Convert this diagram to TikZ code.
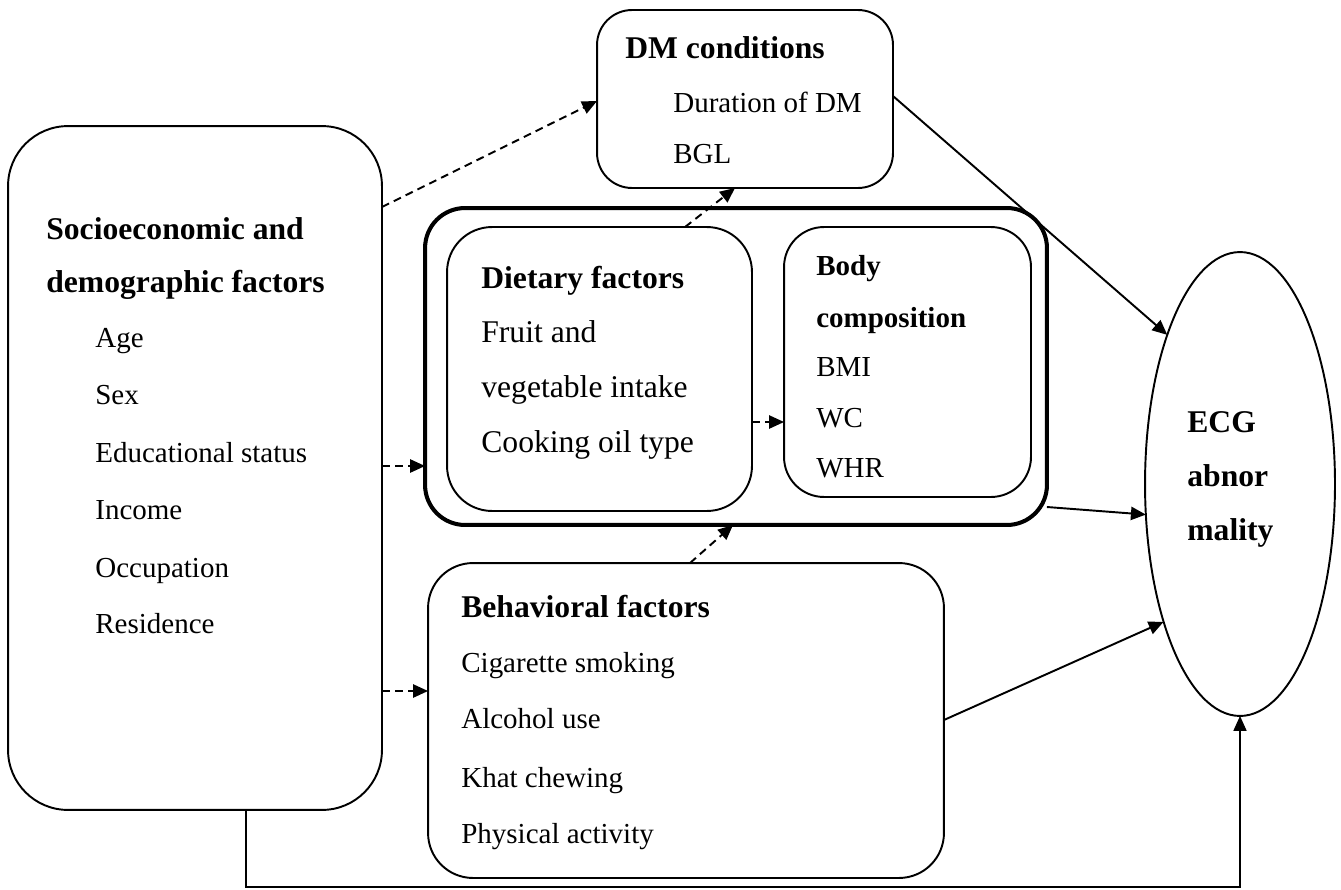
\documentclass[tikz,border=0pt]{standalone}
\usepackage{fontspec}
\setmainfont{Liberation Serif}
\usetikzlibrary{shapes.geometric,arrows.meta}
\begin{document}
\begin{tikzpicture}[x=0.02cm,y=-0.02cm,
  box/.style={draw,line width=1.1pt,inner sep=0pt,outer sep=0pt},
  hd/.style={anchor=base west,inner sep=0pt,font=\fontsize{18}{20}\selectfont\bfseries},
  hds/.style={anchor=base west,inner sep=0pt,font=\fontsize{16.5}{19}\selectfont\bfseries},
  it/.style={anchor=base west,inner sep=0pt,font=\fontsize{16.5}{19}\selectfont},
  itl/.style={anchor=base west,inner sep=0pt,font=\fontsize{18}{20}\selectfont},
  tip/.style={-{Triangle[length=8.5pt,width=7.5pt]}},
  dsh/.style={tip,line width=1.1pt,dash pattern=on 4.5pt off 3pt},
  sol/.style={tip,line width=1.1pt}]
\useasboundingbox (0,0) rectangle (1341,889);
% boxes
\node[box,rounded corners=1.2cm,minimum width=7.48cm,minimum height=13.68cm] (socio) at (195,468) {};
\node[box,rounded corners=0.7cm,minimum width=5.92cm,minimum height=3.56cm] (dm) at (745,99) {};
\node[box,line width=2.3pt,rounded corners=0.8cm,minimum width=12.44cm,minimum height=6.34cm] (outer) at (736,366.5) {};
\node[box,rounded corners=0.9cm,minimum width=6.1cm,minimum height=5.68cm] (diet) at (599.5,369) {};
\node[box,rounded corners=0.8cm,minimum width=4.94cm,minimum height=5.4cm] (body) at (907.5,362) {};
\node[box,rounded corners=0.9cm,minimum width=10.32cm,minimum height=6.3cm] (behav) at (686,720.5) {};
\node[box,ellipse,minimum width=3.8cm,minimum height=9.28cm] (ell) at (1240,484) {};
% texts
\node[hd] (s1) at (46,239) {Socioeconomic and};
\node[hd] (s2) at (46,292) {demographic factors};
\node[it] (s3) at (95,347) {Age};
\node[it] (s4) at (95,404) {Sex};
\node[it] (s5) at (95,462) {Educational status};
\node[it] (s6) at (95,519) {Income};
\node[it] (s7) at (95,577) {Occupation};
\node[it] (s8) at (95,633) {Residence};
\node[hd] (d1) at (625,58) {DM conditions};
\node[it] (d2) at (673,112) {Duration of DM};
\node[it] (d3) at (673,163) {BGL};
\node[hd] (f1) at (481,288) {Dietary factors};
\node[itl] (f2) at (481,342) {Fruit and};
\node[itl] (f3) at (481,397) {vegetable intake};
\node[itl] (f4) at (481,452) {Cooking oil type};
\node[hds] (b1) at (816,275) {Body};
\node[hds] (b2) at (816,327) {composition};
\node[it] (b3) at (816,376) {BMI};
\node[it] (b4) at (816,427) {WC};
\node[it] (b5) at (816,477) {WHR};
\node[hd] (h1) at (461,617) {Behavioral factors};
\node[it] (h2) at (461,672) {Cigarette smoking};
\node[it] (h3) at (461,728) {Alcohol use};
\node[it] (h4) at (461,787) {Khat chewing};
\node[it] (h5) at (461,843) {Physical activity};
\node[hd] (e1) at (1187,432) {ECG};
\node[hd] (e2) at (1187,486) {abnor};
\node[hd] (e3) at (1187,540) {mality};
% connectors
\draw[dsh] (socio.east |- 0,207) -- (dm.west |- 0,101);
\draw[dsh] (diet.north -| 685,0) -- (dm.south -| 735,0);
\draw[dsh] (socio.east |- 0,466) -- (outer.west |- 0,466);
\draw[dsh] (diet.east |- 0,422) -- (body.west |- 0,422);
\draw[dsh] (behav.north -| 690,0) -- (outer.south -| 733,0);
\draw[dsh] (socio.east |- 0,691) -- (behav.west |- 0,691);
\draw[sol] (dm.east |- 0,96) -- (ell.116.9);
\draw[sol] (outer.east |- 0,507) -- (ell.198.8);
\draw[sol] (behav.east |- 0,720) -- (ell.241.2);
\coordinate (c1) at (246,887);
\draw[tip,line width=0.6pt] (socio.south -| c1) -- (c1) -| (ell.south);
\end{tikzpicture}
\end{document}
